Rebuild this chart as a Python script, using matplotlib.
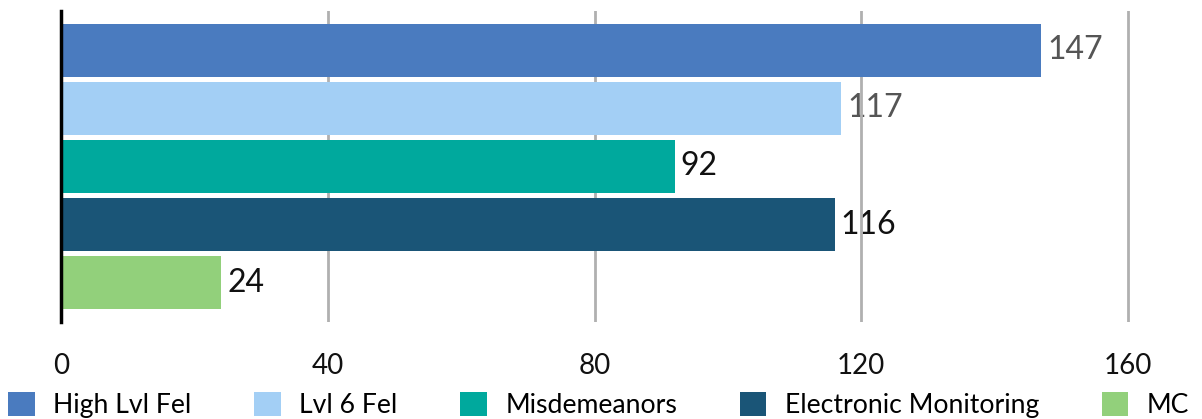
import matplotlib
matplotlib.use("Agg")
import matplotlib.pyplot as plt
from matplotlib.patches import Patch

categories = ["High Lvl Fel", "Lvl 6 Fel", "Misdemeanors", "Electronic Monitoring", "MC"]
values = [147, 117, 92, 116, 24]
colors = ["#4a7bbf", "#a3cff5", "#00a99d", "#1a5577", "#92d07b"]
label_colors = ["#555555", "#555555", "#111111", "#111111", "#111111"]
xticks = [0, 40, 80, 120, 160]

plt.rcParams['font.family'] = ['Lato', 'DejaVu Sans']

fig = plt.figure(figsize=(12.02, 4.19), dpi=100)
W, H = 1202, 419
left, right = 61 / W, (61 + 170 * 6.669) / W
top, bottom = 1 - 11 / H, 1 - 322 / H
ax = fig.add_axes([left, bottom, right - left, top - bottom])

ypos = list(range(len(categories)))
ax.barh(ypos, values, height=0.91, color=colors, zorder=3)
for y, v, c in zip(ypos, values, label_colors):
    ax.text(v + 0.9, y, str(v), va='center', ha='left', fontsize=23, color=c, zorder=1)

ax.set_xlim(0, 170)
ax.set_ylim(4.67, -0.67)
ax.set_xticks(xticks)
ax.set_xticklabels([str(t) for t in xticks], fontsize=20, color="#111111")
ax.set_yticks([])
ax.tick_params(axis='x', length=0, pad=22)
ax.grid(axis='x', color='#b0b0b0', linewidth=2, zorder=2)
ax.set_axisbelow(False)
for s in ['top', 'right', 'bottom']:
    ax.spines[s].set_visible(False)
ax.spines['left'].set_linewidth(2.5)
ax.spines['left'].set_color('black')
ax.spines['left'].set_zorder(4)

handles = [Patch(facecolor=c, edgecolor='none') for c in colors]
fig.legend(handles, categories, loc='center left', bbox_to_anchor=(0.0, 1 - 405 / H),
           ncol=5, frameon=False, fontsize=19.15, handlelength=1.0, handleheight=1.0,
           handletextpad=0.7, columnspacing=2.35, borderaxespad=0, borderpad=0.3)

fig.savefig("out.png", dpi=100)
